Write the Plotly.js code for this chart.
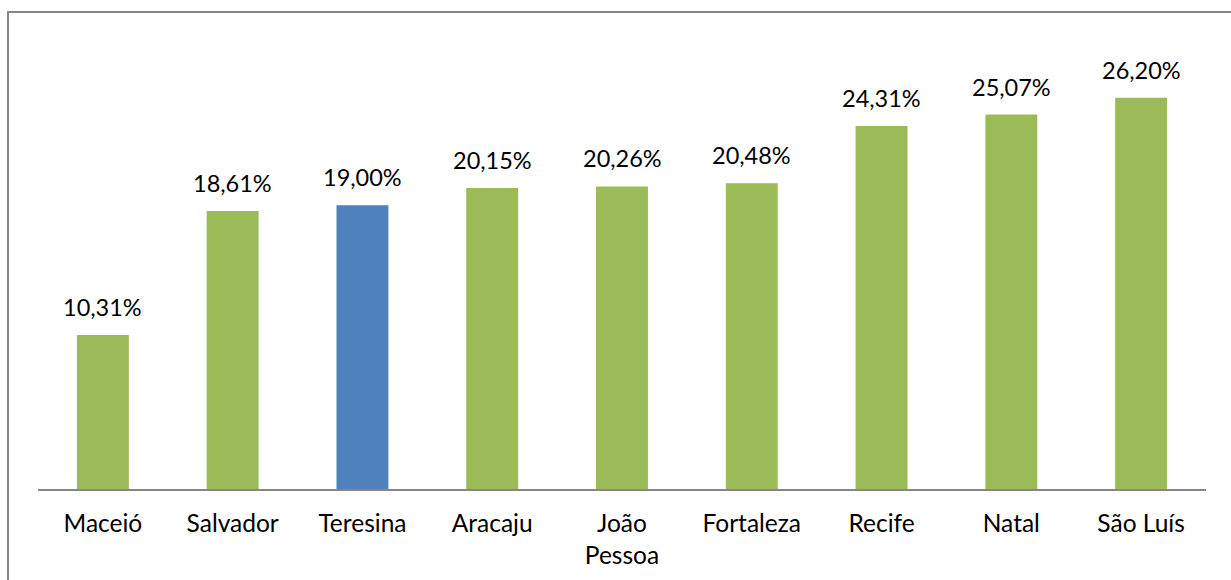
<!DOCTYPE html>
<html>
<head>
<meta charset="utf-8">
<script src="https://cdn.plot.ly/plotly-3.0.1.min.js"></script>
<style>
html,body{margin:0;padding:0;background:#fff;overflow:hidden;}
#chart{width:1231px;height:580px;position:absolute;left:0;top:0;}
#frame{position:absolute;left:7px;top:11px;width:1300px;height:640px;border:2px solid #878787;pointer-events:none;box-sizing:border-box;}
</style>
</head>
<body>
<div id="chart"></div>
<div id="frame"></div>
<script>
const categories = ["Maceió","Salvador","Teresina","Aracaju","João<br>Pessoa","Fortaleza","Recife","Natal","São Luís"];
const values = [10.31, 18.61, 19.00, 20.15, 20.26, 20.48, 24.31, 25.07, 26.20];
const valueLabels = ["10,31%","18,61%","19,00%","20,15%","20,26%","20,48%","24,31%","25,07%","26,20%"];
const highlight = "Teresina";

const colors = categories.map(c => c === highlight ? "#4F81BD" : "#9BBB59");
const FONT = "Lato, 'Open Sans', sans-serif";

const trace = {
  type: "bar",
  x: categories,
  y: values,
  marker: {color: colors},
  hoverinfo: "skip"
};

const annotations = categories.map((c, i) => ({
  x: c, y: values[i], xref: "x", yref: "y",
  text: valueLabels[i], showarrow: false,
  yanchor: "bottom", yshift: 12,
  font: {family: FONT, size: 23.5, color: "#000"}
}));

const layout = {
  width: 1231, height: 580,
  margin: {l: 38, r: 25, t: 41, b: 91},
  paper_bgcolor: "#fff", plot_bgcolor: "#fff",
  bargap: 0.6,
  showlegend: false,
  xaxis: {
    showline: true, linecolor: "#868686", linewidth: 1.5,
    ticks: "", showgrid: false, zeroline: false,
    tickfont: {family: FONT, size: 24.5, color: "#000"},
    ticklabelstandoff: 12,
    fixedrange: true
  },
  yaxis: {
    range: [0, 30], visible: false, showgrid: false, zeroline: false, fixedrange: true
  },
  annotations: annotations
};

Plotly.newPlot("chart", [trace], layout, {displayModeBar: false, staticPlot: true});
</script>
</body>
</html>
